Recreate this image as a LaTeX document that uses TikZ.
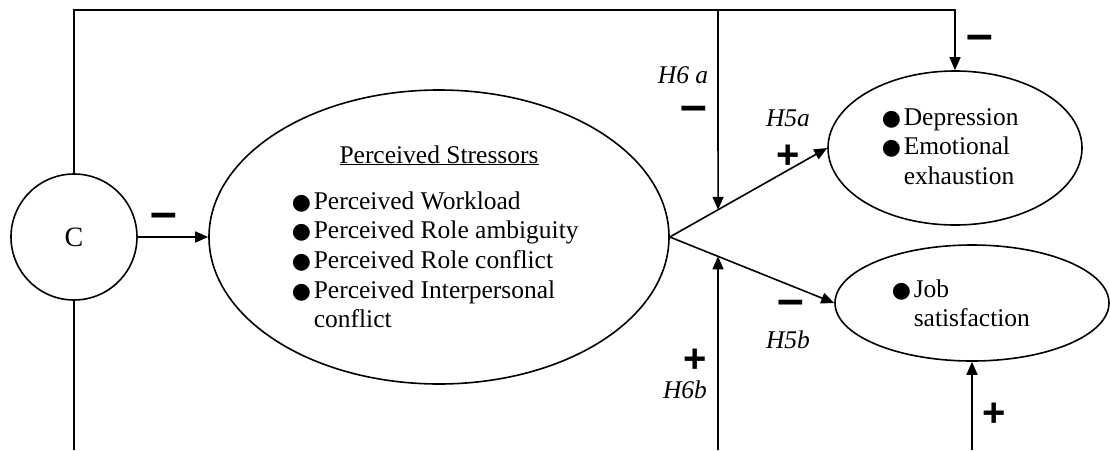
\documentclass[tikz,border=0pt]{standalone}
\usepackage{fontspec}
\setmainfont{Liberation Serif}
\newfontfamily\signfont{Liberation Sans}
\newfontfamily\dotfont{DejaVu Sans}
\usetikzlibrary{arrows.meta,shapes.geometric}

% bullet mark used in the item lists
\newcommand\bul{\makebox[22pt][l]{\dotfont\fontsize{22}{22}\selectfont ●}}

\tikzset{
  txt/.style={font=\fontsize{25.5}{29.7}\selectfont, inner sep=0pt},
  hyp/.style={font=\itshape\fontsize{25.5}{29.7}\selectfont, inner sep=0pt},
  minus/.style={font=\signfont\bfseries\fontsize{48}{48}\selectfont, inner sep=0pt},
  plus/.style={font=\signfont\bfseries\fontsize{40}{40}\selectfont, inner sep=0pt},
  construct/.style={draw, ellipse, inner sep=0pt},
  link/.style={-{Triangle[length=13pt,width=11pt]}},
}

\begin{document}
\begin{tikzpicture}[x=1pt,y=-1pt,line width=1.6pt]
\useasboundingbox (0,0) rectangle (1110,450);
\fill[white] (0,0) rectangle (1110,450);

% constructs
\node[draw, circle, minimum size=126pt, inner sep=0pt, font=\fontsize{28}{30}\selectfont] (C) at (74,237) {C};
\node[construct, minimum width=460pt, minimum height=294pt] (S) at (439,237) {};
\node[construct, minimum width=254pt, minimum height=154pt] (D) at (955,148) {};
\node[construct, minimum width=274pt, minimum height=116pt] (J) at (972,303) {};

% construct contents
\node[txt, anchor=base] (Stitle) at (439,163) {\underline{Perceived Stressors}};
\node[txt, anchor=base west] (Slist) at (291,209) {%
  \begin{tabular}[t]{@{}l@{}l@{}}
  \bul & Perceived Workload\\
  \bul & Perceived Role ambiguity\\
  \bul & Perceived Role conflict\\
  \bul & Perceived Interpersonal\\
       & conflict
  \end{tabular}};
\node[txt, anchor=base west] (Dlist) at (881,125) {%
  \begin{tabular}[t]{@{}l@{}l@{}}
  \bul & Depression\\
  \bul & Emotional\\
       & exhaustion
  \end{tabular}};
\node[txt, anchor=base west] (Jlist) at (891,297) {%
  \begin{tabular}[t]{@{}l@{}l@{}}
  \bul & Job\\
       & satisfaction
  \end{tabular}};

% helper points of the frame lines
\coordinate (tl) at (74,10);
\coordinate (tr) at (955,10);
\coordinate (cb) at (74,450);
\coordinate (h6top) at (718,10);
\coordinate (h6bot) at (718,450);
\coordinate (m1) at (intersection of S.east--D.west and h6top--h6bot);
\coordinate (m2) at (intersection of S.east--J.west and h6top--h6bot);
\coordinate (jb) at (J.south |- cb);

% connectors
\draw[link] (C.east) -- (S.west);
\draw[link] (C.north) -- (tl) -- (tr) -- (D.north);
\draw (C.south) -- (cb);
\draw[link] (S.east) -- (D.west);
\draw[link] (S.east) -- (J.west);
\draw[link] (h6top) -- (m1);
\draw[link] (h6bot) -- (m2);
\draw[link] (jb) -- (J.south);

% hypothesis labels and signs
\node[minus] (sC) at (164,221) {–};
\node[hyp] (lH6a) at (683,75) {H6 a};
\node[minus] (sH6a) at (694,114) {–};
\node[plus] (sH6b) at (695,361) {+};
\node[hyp] (lH6b) at (685,390) {H6b};
\node[hyp] (lH5a) at (788,118) {H5a};
\node[plus] (sH5a) at (788,157) {+};
\node[minus] (sH5b) at (791,308) {–};
\node[hyp] (lH5b) at (788,340) {H5b};
\node[minus] (sD) at (980,43) {–};
\node[plus] (sJ) at (994,415) {+};
\end{tikzpicture}
\end{document}
